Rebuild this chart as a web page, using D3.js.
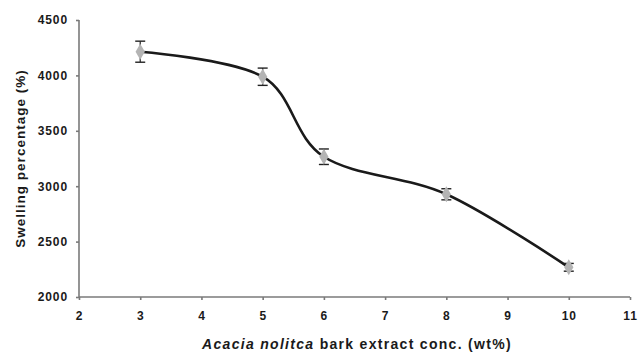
<!DOCTYPE html>
<html>
<head>
<meta charset="utf-8">
<script src="https://cdn.jsdelivr.net/npm/d3@7"></script>
<style>
  body { margin: 0; background: #fff; }
  .axis text { font-family: "Liberation Sans", Arial, sans-serif; font-weight: bold; font-size: 12px; letter-spacing: 0.9px; fill: #1a1a1a; }
  .axis path, .axis line { stroke: #7a7a7a; stroke-width: 1.6px; }
  .label { font-family: "Liberation Sans", Arial, sans-serif; font-weight: bold; fill: #1a1a1a; }
</style>
</head>
<body>
<div id="chart"></div>
<script>
// values
var conc = [3, 5, 6, 8, 10];
var swelling = [4214, 3988, 3266, 2927, 2268];
var errors = [95, 78, 70, 50, 35];
var xTicks = [2, 3, 4, 5, 6, 7, 8, 9, 10, 11];
var yTicks = [2000, 2500, 3000, 3500, 4000, 4500];

var wFrame = 638, hFrame = 355;
var margin = { top: 20, right: 8, bottom: 58, left: 79 },
    width = wFrame - margin.left - margin.right,
    height = hFrame - margin.top - margin.bottom;

var x = d3.scaleLinear().domain([2, 11]).range([0, width]);
var y = d3.scaleLinear().domain([2000, 4500]).range([height, 0]);

var svg = d3.select("#chart").append("svg")
    .attr("width", wFrame)
    .attr("height", hFrame)
    .append("g")
    .attr("transform", "translate(" + margin.left + "," + margin.top + ")");

var xAxis = d3.axisBottom(x).tickValues(xTicks).tickSize(3).tickPadding(11).tickFormat(d3.format("d"));
var yAxis = d3.axisLeft(y).tickValues(yTicks).tickSize(3).tickPadding(8).tickFormat(d3.format("d"));

var gx = svg.append("g")
    .attr("class", "x axis")
    .attr("transform", "translate(0," + height + ")")
    .call(xAxis);
gx.select(".domain").attr("d", "M0,0H" + width);

var gy = svg.append("g")
    .attr("class", "y axis")
    .call(yAxis);
gy.select(".domain").attr("d", "M0," + height + "V0");

// axis titles
var xl = svg.append("text")
    .attr("class", "label")
    .attr("x", 278)
    .attr("y", height + 52)
    .style("font-size", "14px")
    .style("letter-spacing", "1.3px")
    .style("text-anchor", "middle");
xl.append("tspan").style("font-style", "italic").text("Acacia nolitca");
xl.append("tspan").text(" bark extract conc. (wt%)");

svg.append("text")
    .attr("class", "label")
    .attr("transform", "rotate(-90)")
    .attr("x", -height / 2)
    .attr("y", -54)
    .style("font-size", "13.5px")
    .style("letter-spacing", "1px")
    .style("text-anchor", "middle")
    .text("Swelling percentage (%)");

var pts = conc.map(function (c, i) { return [c, swelling[i], errors[i]]; });

var line = d3.line()
    .x(function (d) { return x(d[0]); })
    .y(function (d) { return y(d[1]); })
    .curve(d3.curveCardinal.tension(0));

svg.append("path")
    .datum(pts)
    .attr("fill", "none")
    .attr("stroke", "#1a1a1a")
    .attr("stroke-width", 2.6)
    .attr("d", line);

// error bars
var eb = svg.selectAll(".err").data(pts).enter().append("g").attr("class", "err");
eb.append("line")
    .attr("x1", function (d) { return x(d[0]); })
    .attr("x2", function (d) { return x(d[0]); })
    .attr("y1", function (d) { return y(d[1] + d[2]); })
    .attr("y2", function (d) { return y(d[1] - d[2]); })
    .attr("stroke", "#222").attr("stroke-width", 1.2);
[1, -1].forEach(function (s) {
    eb.append("line")
        .attr("x1", function (d) { return x(d[0]) - 5; })
        .attr("x2", function (d) { return x(d[0]) + 5; })
        .attr("y1", function (d) { return y(d[1] + s * d[2]); })
        .attr("y2", function (d) { return y(d[1] + s * d[2]); })
        .attr("stroke", "#222").attr("stroke-width", 1.4);
});

// diamond markers
svg.selectAll(".pt").data(pts).enter().append("path")
    .attr("class", "pt")
    .attr("transform", function (d) { return "translate(" + x(d[0]) + "," + y(d[1]) + ")"; })
    .attr("d", d3.symbol().type(d3.symbolDiamond).size(75))
    .attr("fill", "#b4b4b4");
</script>
</body>
</html>
